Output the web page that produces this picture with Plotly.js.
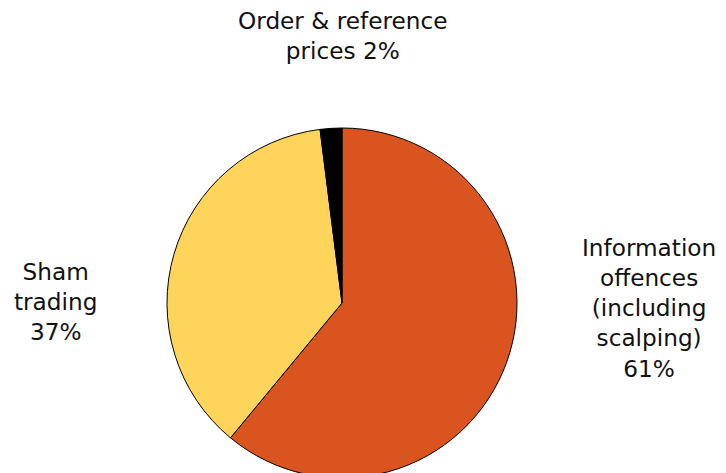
<!DOCTYPE html>
<html>
<head>
<meta charset="utf-8">
<script src="https://cdn.plot.ly/plotly-3.0.1.min.js"></script>
<style>
html,body{margin:0;padding:0;background:#fff;overflow:hidden;}
#chart{width:726px;height:520px;}
</style>
</head>
<body>
<div id="chart"></div>
<script>
const categories = ["Information offences (including scalping)", "Sham trading", "Order & reference prices"];
const labelLines = ["Information<br>offences<br>(including<br>scalping)", "Sham<br>trading", "Order & reference<br>prices"];
const values = [61, 37, 2];
const colors = ["#DA5420", "#FFD45A", "#000000"];

const W = 726, H = 520;
const px = x => x / W;
const py = y => 1 - y / H;

const labelPos = [[649, 308], [55, 301], [342, 36]];
const annotations = categories.map((c, i) => ({
  text: i === 2 ? labelLines[i] + " " + values[i] + "%" : labelLines[i] + "<br>" + values[i] + "%",
  x: px(labelPos[i][0]), y: py(labelPos[i][1]),
  xref: "paper", yref: "paper", xanchor: "center", yanchor: "middle",
  showarrow: false, align: "center",
  font: {family: "DejaVu Sans, Verdana, sans-serif", size: 23.2, color: "#111"}
}));

Plotly.newPlot("chart", [{
  type: "pie",
  labels: categories,
  values: values,
  marker: {colors: colors, line: {color: "#000", width: 1}},
  sort: false,
  direction: "clockwise",
  rotation: 0,
  textinfo: "none",
  hoverinfo: "label+percent",
  domain: {x: [px(167), px(517)], y: [py(478), py(128)]}
}], {
  width: W, height: H,
  margin: {l: 0, r: 0, t: 0, b: 0},
  showlegend: false,
  paper_bgcolor: "#fff",
  annotations: annotations
}, {displayModeBar: false, staticPlot: true});
</script>
</body>
</html>
